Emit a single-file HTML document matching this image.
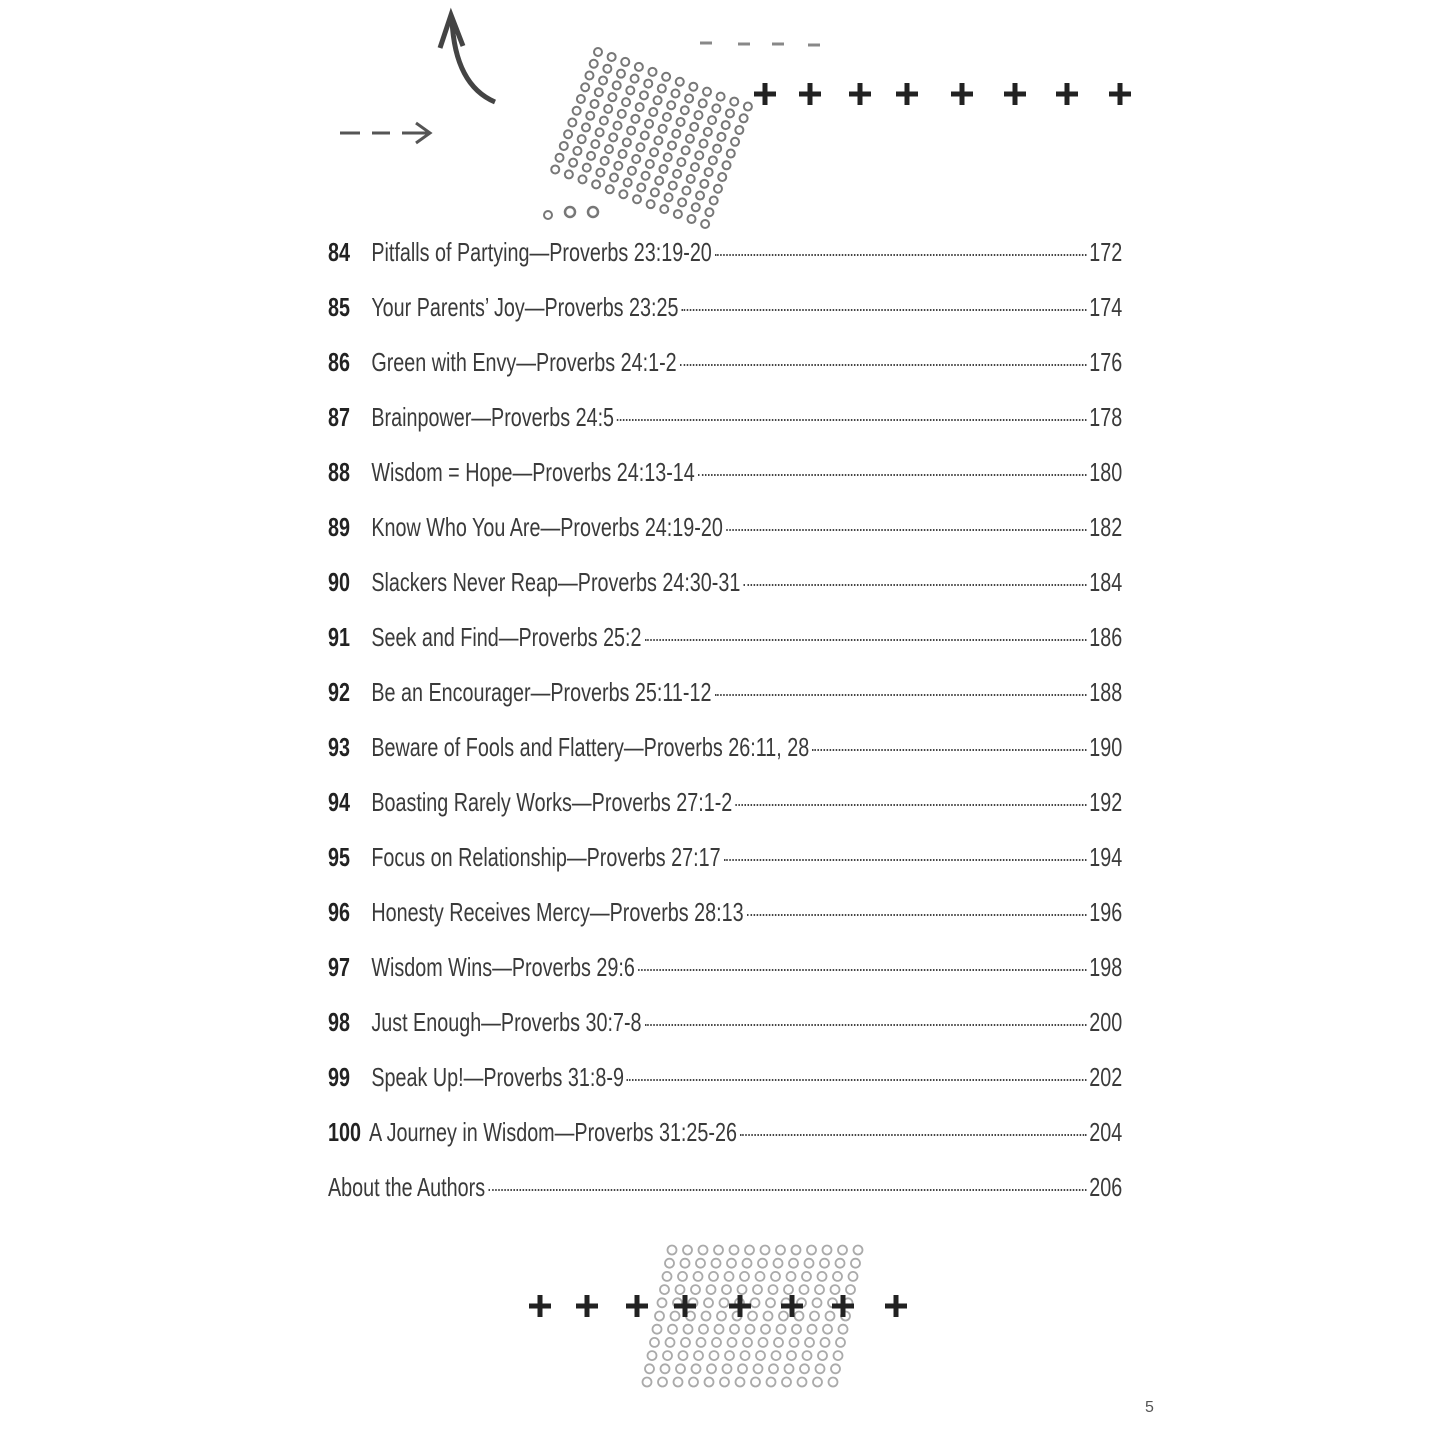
<!DOCTYPE html>
<html><head><meta charset="utf-8"><style>
body{margin:0;width:1445px;height:1445px;background:#fff;position:relative;overflow:hidden;font-family:"Liberation Sans",sans-serif;}
.row{position:absolute;left:328px;width:1045px;height:30px;transform:scaleX(0.76);transform-origin:0 0;display:flex;align-items:baseline;font-size:26px;color:#3a3a3a;white-space:nowrap;}
.n{font-weight:bold;color:#222;width:57px;}
.lead{flex:1;border-bottom:2px dotted #444;margin:0 4px;transform:translateY(-5px);}
svg{position:absolute;left:0;top:0}
</style></head><body>
<svg width="1445" height="1445" id="s">
<path d="M495 102 Q455 85 452 20" stroke="#444" stroke-width="5" fill="none"/>
<path d="M440 48 L451 15 L463 46" stroke="#444" stroke-width="5" fill="none"/>
<path d="M340 133 H360 M372 133 H390 M402 133 H428 M416 123 L430 133 L416 143" stroke="#555" stroke-width="3" fill="none"/>
<path d="M700 43 H712 M738 44 H750 M772 44 H784 M808 45 H820" stroke="#888" stroke-width="3"/>
<g id="g1" fill="none" stroke="#777" stroke-width="2"></g>
<g id="g2" fill="none" stroke="#aaa" stroke-width="1.8"></g>
<circle cx="548" cy="215" r="4" fill="none" stroke="#777" stroke-width="2"/>
<circle cx="570" cy="212" r="5" fill="none" stroke="#777" stroke-width="2.5"/>
<circle cx="593" cy="212" r="5" fill="none" stroke="#777" stroke-width="2.5"/>
<g id="plus" fill="#222"></g>
<text x="1145" y="1412" font-size="16" fill="#555">5</text>
</svg>
<div class="row" style="top:237px"><span class="n">84</span><span>Pitfalls of Partying—Proverbs 23:19-20</span><span class="lead"></span><span>172</span></div>
<div class="row" style="top:292px"><span class="n">85</span><span>Your Parents’ Joy—Proverbs 23:25</span><span class="lead"></span><span>174</span></div>
<div class="row" style="top:347px"><span class="n">86</span><span>Green with Envy—Proverbs 24:1-2</span><span class="lead"></span><span>176</span></div>
<div class="row" style="top:402px"><span class="n">87</span><span>Brainpower—Proverbs 24:5</span><span class="lead"></span><span>178</span></div>
<div class="row" style="top:457px"><span class="n">88</span><span>Wisdom = Hope—Proverbs 24:13-14</span><span class="lead"></span><span>180</span></div>
<div class="row" style="top:512px"><span class="n">89</span><span>Know Who You Are—Proverbs 24:19-20</span><span class="lead"></span><span>182</span></div>
<div class="row" style="top:567px"><span class="n">90</span><span>Slackers Never Reap—Proverbs 24:30-31</span><span class="lead"></span><span>184</span></div>
<div class="row" style="top:622px"><span class="n">91</span><span>Seek and Find—Proverbs 25:2</span><span class="lead"></span><span>186</span></div>
<div class="row" style="top:677px"><span class="n">92</span><span>Be an Encourager—Proverbs 25:11-12</span><span class="lead"></span><span>188</span></div>
<div class="row" style="top:732px"><span class="n">93</span><span>Beware of Fools and Flattery—Proverbs 26:11, 28</span><span class="lead"></span><span>190</span></div>
<div class="row" style="top:787px"><span class="n">94</span><span>Boasting Rarely Works—Proverbs 27:1-2</span><span class="lead"></span><span>192</span></div>
<div class="row" style="top:842px"><span class="n">95</span><span>Focus on Relationship—Proverbs 27:17</span><span class="lead"></span><span>194</span></div>
<div class="row" style="top:897px"><span class="n">96</span><span>Honesty Receives Mercy—Proverbs 28:13</span><span class="lead"></span><span>196</span></div>
<div class="row" style="top:952px"><span class="n">97</span><span>Wisdom Wins—Proverbs 29:6</span><span class="lead"></span><span>198</span></div>
<div class="row" style="top:1007px"><span class="n">98</span><span>Just Enough—Proverbs 30:7-8</span><span class="lead"></span><span>200</span></div>
<div class="row" style="top:1062px"><span class="n">99</span><span>Speak Up!—Proverbs 31:8-9</span><span class="lead"></span><span>202</span></div>
<div class="row" style="top:1117px"><span class="n" style="width:54px">100</span><span>A Journey in Wisdom—Proverbs 31:25-26</span><span class="lead"></span><span>204</span></div>
<div class="row" style="top:1172px"><span>About the Authors</span><span class="lead"></span><span>206</span></div>
<script>
var ns="http://www.w3.org/2000/svg";
function c(g,x,y,r){var e=document.createElementNS(ns,"circle");e.setAttribute("cx",x);e.setAttribute("cy",y);e.setAttribute("r",r);g.appendChild(e);}
var g1=document.getElementById("g1"),a=20*Math.PI/180;
for(var i=0;i<11;i++)for(var j=0;j<12;j++){var u=j*14.5,v=i*12.5;c(g1,598+u*Math.cos(a)-v*Math.sin(a),52+u*Math.sin(a)+v*Math.cos(a),4);}
var g2=document.getElementById("g2");
for(var i=0;i<11;i++)for(var j=0;j<13;j++)c(g2,672+j*15.5-i*2.5,1250+i*13.2,4.5);
var p=document.getElementById("plus");
function pl(x,y){var r=document.createElementNS(ns,"path");r.setAttribute("d","M"+(x-11)+" "+y+"H"+(x+11)+"M"+x+" "+(y-11)+"V"+(y+11));r.setAttribute("stroke","#222");r.setAttribute("stroke-width","5");p.appendChild(r);}
[765,810,860,907,962,1015,1067,1120].forEach(function(x){pl(x,94)});
[540,587,637,685,740,792,843,896].forEach(function(x){pl(x,1306)});
</script>
</body></html>
